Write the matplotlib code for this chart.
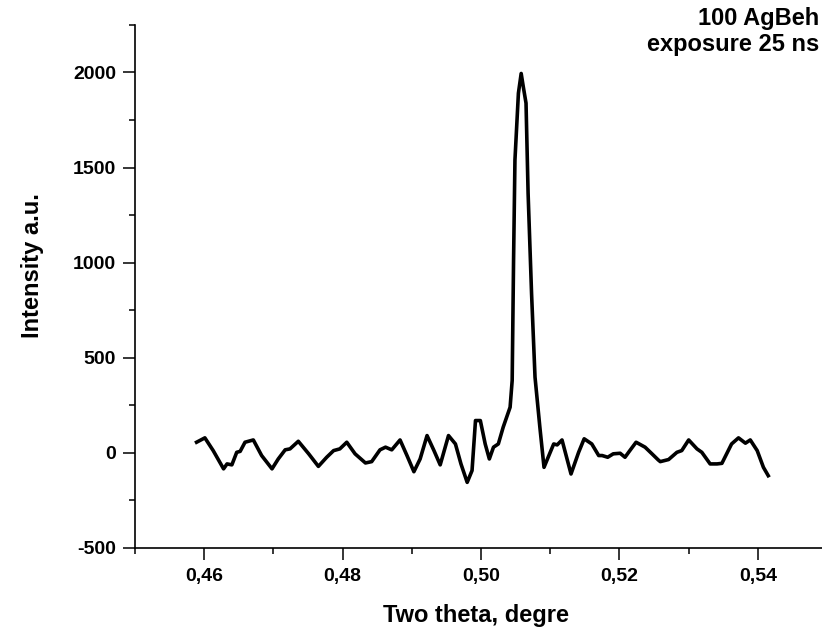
import numpy as np
import matplotlib.pyplot as plt
from matplotlib.ticker import FixedLocator, MultipleLocator

plt.rcParams['font.family'] = ['Liberation Sans', 'DejaVu Sans']
plt.rcParams['font.weight'] = 'bold'
plt.rcParams['axes.unicode_minus'] = False

# two theta (deg) vs intensity
two_theta = [0.4589, 0.4601, 0.4613, 0.4628, 0.4633, 0.4640, 0.4647, 0.4652, 0.4659, 0.4671,
             0.4683, 0.4698, 0.4707, 0.4717, 0.4724, 0.4736, 0.4751, 0.4765, 0.4777, 0.4787,
             0.4796, 0.4806, 0.4818, 0.4833, 0.4842, 0.4854, 0.4862, 0.4871, 0.4883, 0.4893,
             0.4903, 0.4912, 0.4922, 0.4932, 0.4941, 0.4953, 0.4963, 0.4971, 0.4980, 0.4987,
             0.4992, 0.4999, 0.5006, 0.5012, 0.5018, 0.5025, 0.5032, 0.5042, 0.5045, 0.5047,
             0.5049, 0.5054, 0.5058, 0.5061, 0.5065, 0.5068, 0.5073, 0.5078, 0.5085, 0.5091,
             0.5097, 0.5105, 0.5110, 0.5117, 0.5130, 0.5141, 0.5149, 0.5160, 0.5170, 0.5175,
             0.5183, 0.5191, 0.5201, 0.5208, 0.5215, 0.5224, 0.5237, 0.5247, 0.5256, 0.5259,
             0.5271, 0.5283, 0.5290, 0.5300, 0.5312, 0.5319, 0.5331, 0.5341, 0.5348, 0.5362,
             0.5372, 0.5382, 0.5389, 0.5399, 0.5408, 0.5415]
intensity = [56, 79, 12, -84, -58, -63, 3, 8, 56, 68,
             -14, -84, -32, 16, 21, 61, -5, -71, -23, 12,
             21, 56, -5, -53, -46, 16, 30, 16, 68, -14,
             -99, -32, 91, 12, -63, 91, 47, -58, -155, -93,
             170, 170, 47, -32, 30, 47, 135, 240, 381, 1013,
             1540, 1891, 1995, 1926, 1839, 1365, 838, 398, 135, -76,
             -23, 47, 42, 68, -111, 3, 74, 47, -14, -14,
             -23, -5, -2, -23, 12, 56, 30, -5, -37, -46,
             -35, 3, 12, 68, 21, 3, -58, -58, -55, 47,
             79, 51, 68, 12, -76, -120]

xticks = [0.46, 0.48, 0.50, 0.52, 0.54]
xticklabels = ['0,46', '0,48', '0,50', '0,52', '0,54']
yticks = [-500, 0, 500, 1000, 1500, 2000]

fig = plt.figure(figsize=(8.22, 6.3), dpi=100)
ax = fig.add_axes([0.1642, 0.1302, 0.842, 0.8302])

ax.plot(two_theta, intensity, color='black', lw=2.6, solid_joinstyle='round')

ax.set_xlim(0.45, 0.55)
ax.set_ylim(-500, 2250)
ax.xaxis.set_major_locator(FixedLocator(xticks))
ax.set_xticklabels(xticklabels)
ax.xaxis.set_minor_locator(MultipleLocator(0.01))
ax.yaxis.set_major_locator(FixedLocator(yticks))
ax.yaxis.set_minor_locator(MultipleLocator(250))

for s in ['top', 'right']:
    ax.spines[s].set_visible(False)
for s in ['left', 'bottom']:
    ax.spines[s].set_linewidth(1.2)

ax.tick_params(which='major', direction='out', length=8.5, width=1.1, labelsize=14, pad=5)
ax.tick_params(which='minor', direction='out', length=4.5, width=1.1)
ax.tick_params(axis='x', which='major', pad=6)

fig.text(476 / 822, 1 - 622 / 630, 'Two theta, degre', ha='center', va='baseline',
         fontsize=17, fontweight='bold')
fig.text(33 / 822, 1 - 266 / 630, 'Intensity a.u.', rotation=90, ha='center', va='center',
         fontsize=17, fontweight='bold')

# legend-like label in the top right corner
fig.text(819 / 822, 1 - 25 / 630, '100 AgBeh', ha='right', va='baseline', fontsize=17,
         fontweight='bold')
fig.text(819 / 822, 1 - 51 / 630, 'exposure 25 ns', ha='right', va='baseline', fontsize=17,
         fontweight='bold')

plt.savefig('out.png', dpi=100)
